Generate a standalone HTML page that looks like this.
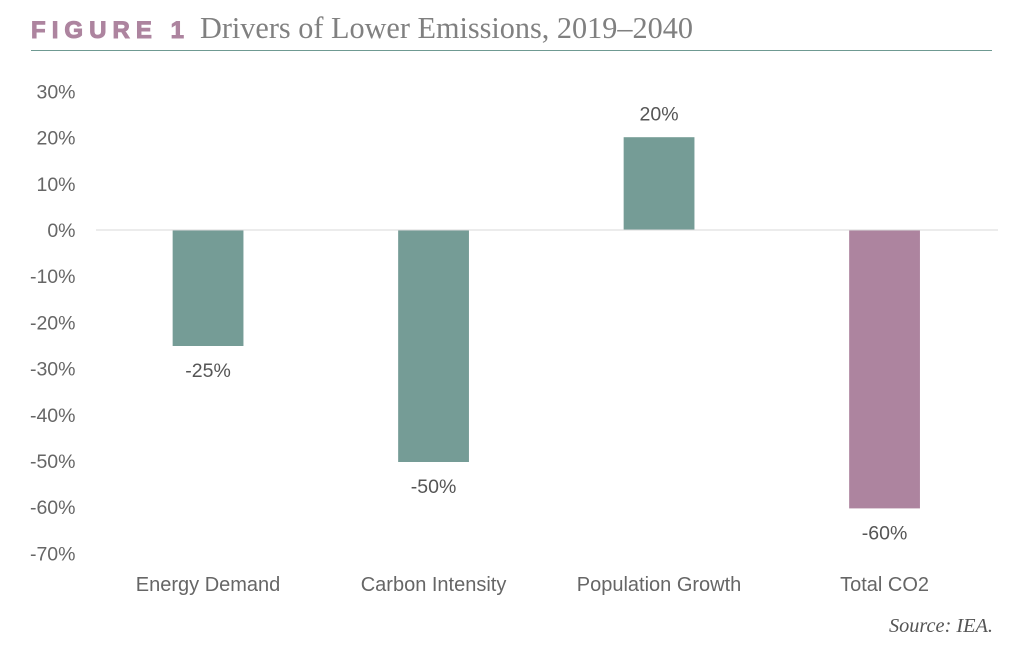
<!DOCTYPE html>
<html lang="en">
<head>
<meta charset="utf-8">
<title>Drivers of Lower Emissions, 2019–2040</title>
<style>
html,body{margin:0;padding:0;background:#fff;width:1025px;height:646px;overflow:hidden}
svg{display:block}
.sans{font-family:"Liberation Sans",sans-serif}
.serif{font-family:"Liberation Serif",serif}
</style>
</head>
<body>
<svg id="chart" width="1025" height="646" viewBox="0 0 1025 646" xmlns="http://www.w3.org/2000/svg">
  <text class="sans" x="31" y="38" font-size="24" font-weight="700" fill="#ad849f" stroke="#ad849f" stroke-width="1" textLength="153" lengthAdjust="spacing">FIGURE 1</text>
  <text class="serif" x="200" y="38" font-size="31" fill="#808080" textLength="493" lengthAdjust="spacingAndGlyphs">Drivers of Lower Emissions, 2019–2040</text>
  <line x1="31" x2="992" y1="50.5" y2="50.5" stroke="#6f9a92" stroke-width="1"></line>
  <text class="serif" x="993" y="632" font-size="20.5" font-style="italic" text-anchor="end" fill="#555" textLength="104" lengthAdjust="spacingAndGlyphs">Source: IEA.</text>
  <g id="y-axis"></g>
  <g id="bars"></g>
  <g id="x-axis"></g>
</svg>
<script>
var categories = ["Energy Demand", "Carbon Intensity", "Population Growth", "Total CO2"];
var values = [-25, -50, 20, -60];
var barLabels = ["-25%", "-50%", "20%", "-60%"];
var highlighted = [false, false, false, true];
var yTicks = [30, 20, 10, 0, -10, -20, -30, -40, -50, -60, -70];

var NS = "http://www.w3.org/2000/svg";
var plotLeft = 96, plotRight = 998, zeroY = 230, pxPerUnit = 4.64, tickPxPerUnit = 4.62, barW = 70.8;
var bandW = (plotRight - plotLeft) / categories.length;
function yScale(v) { return zeroY - v * pxPerUnit; }
function tickScale(v) { return zeroY - v * tickPxPerUnit; }
function xCenter(i) { return plotLeft + bandW * (i + 0.5) - 0.7; }
function make(tag, attrs, text) {
  var el = document.createElementNS(NS, tag);
  for (var k in attrs) { el.setAttribute(k, attrs[k]); }
  if (text !== undefined) { el.textContent = text; }
  return el;
}
var yAxis = document.getElementById("y-axis");
var barsG = document.getElementById("bars");
var xAxis = document.getElementById("x-axis");

yTicks.forEach(function (t) {
  var el = make("text", {"class": "sans", x: 75.5, y: tickScale(t) + 7, "font-size": 19.5, "text-anchor": "end", fill: "#666666"}, t + "%");
  
  
  yAxis.appendChild(el);
});

values.forEach(function (v, i) {
  var top = Math.min(yScale(v), zeroY);
  var h = Math.abs(yScale(v) - zeroY);
  var r = make("rect", {x: xCenter(i) - barW / 2, y: top, width: barW, height: h, fill: highlighted[i] ? "#ad849f" : "#759c96"});
  
  
  barsG.appendChild(r);
  var labelY = v >= 0 ? yScale(v) - 16.5 : yScale(v) + 31;
  var lab = make("text", {"class": "sans", x: xCenter(i), y: labelY, "font-size": 19.5, "text-anchor": "middle", fill: "#555555"}, barLabels[i]);
  
  
  barsG.appendChild(lab);
  var cat = make("text", {"class": "sans", x: xCenter(i), y: 591, "font-size": 20, "text-anchor": "middle", fill: "#666666"}, categories[i]);
  
  
  xAxis.appendChild(cat);
});

var zeroLine = make("line", {x1: plotLeft, x2: plotRight, y1: zeroY, y2: zeroY, stroke: "#d9d9d9", "stroke-width": 1});


xAxis.appendChild(zeroLine);
</script>
</body>
</html>
